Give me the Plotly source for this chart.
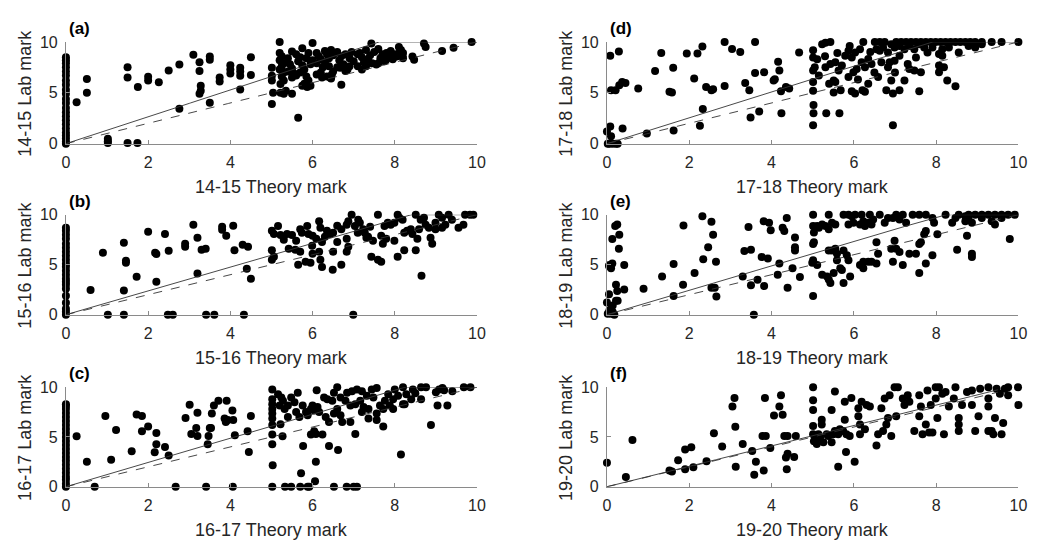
import plotly.graph_objects as go
import numpy as np

# ---------------- data (theory mark, lab mark) ----------------
col_a = [0, 0.2, 0.5, 0.8, 1.1, 1.5, 1.9, 2.3, 2.7, 3.1, 3.5, 4.0, 4.4, 4.9, 5.3, 5.8, 6.2, 6.7, 7.1, 7.5, 7.9, 8.2, 8.5]
pts_a = [(0.26,4.06),(0.51,6.35),(0.51,5.0),(1.02,0.48),(1.02,0.25),(1.02,0.06),(1.5,0.06),(1.74,0.06),(1.5,7.5),(1.5,6.5),
         (1.75,5.56),(2.0,6.57),(2.0,6.2),(2.26,6.03),(2.5,7.2),(2.76,7.78),(2.76,3.43),(3.1,8.73),(3.25,8.0),(3.25,7.14),
         (3.28,5.7),(3.28,5.2),(3.25,4.9),(3.5,8.57),(3.5,8.25),(3.5,4.03),(3.74,6.5),(3.74,6.1),(4.0,7.7),(4.0,7.3),(4.0,6.9),
         (4.24,7.46),(4.24,7.1),(4.24,6.67),(4.24,5.33),(4.5,8.5),(4.5,6.76),
         (5.2,10),(6.0,9.9),(5.01,7.46),(5.01,6.67),(5.01,6.2),(5.04,5.0),(5.01,3.9),(5.5,9.05),(5.5,4.9),(5.65,2.54),(5.75,9.37),
         (6.7,5.8),(7.43,9.84),(8.71,9.84),(8.75,9.5),(8.43,8.57),(8.47,8.25),(9.15,9.11),(9.43,9.43),(9.87,10),
         (5.22,5.0),(5.3,4.9),(5.22,5.87),(5.75,5.7),(5.87,5.56),(6.23,6.5),(6.43,6.5),(6.47,6.8),(6.67,7.46),(6.8,7.14),
         (7.55,7.78),(7.79,8.25),(8.03,8.57),(8.11,8.9),(8.19,8.57),
         (5.2,8.9),(5.25,8.6),(5.2,8.2),(5.3,7.9),(5.25,7.6),(5.2,7.3),(5.3,7.0),(5.25,6.6),(5.3,6.2),(5.35,5.2),
         (5.4,8.4),(5.45,7.8),(5.5,7.4),(5.4,7.1),(5.55,6.9),(5.5,6.5),(5.6,6.7),
         (5.6,8.8),(5.7,8.5),(5.65,8.1),(5.75,7.7),(5.8,7.3),(5.7,7.0),(5.85,6.6),(5.9,6.2),(5.8,5.9),(5.95,5.7),(5.9,8.9),
         (6.0,8.2),(5.95,7.8),(5.85,8.4),
         (6.1,8.9),(6.15,8.6),(6.2,8.3),(6.1,7.9),(6.25,7.5),(6.3,9.1),(6.35,8.8),(6.4,8.4),(6.3,8.0),(6.45,9.2),(6.5,8.7),
         (6.4,7.6),(6.2,7.0),(6.35,6.6),(6.5,7.1),(6.1,6.8),(6.45,6.4),
         (6.6,9.0),(6.7,8.6),(6.65,8.2),(6.8,8.8),(6.9,8.4),(6.75,7.8),(6.85,7.3),(6.95,9.0),(7.0,8.1),(6.6,7.5),(6.9,7.6),
         (7.1,8.8),(7.2,8.5),(7.15,8.9),(7.3,9.2),(7.25,8.0),(7.4,8.7),(7.35,8.3),(7.45,7.9),(7.1,7.6),(7.2,7.3),(7.5,9.0),(7.3,7.6),
         (7.6,9.3),(7.7,8.8),(7.65,8.4),(7.8,8.9),(7.85,8.5),(7.9,9.1),(7.95,8.3),(8.0,8.8),(8.1,9.5),(8.15,9.2),(8.05,8.6),
         (7.75,8.1),(7.6,7.9),(8.2,8.9),(8.2,8.4)]

col_b = [0, 0.3, 0.6, 1.2, 1.9, 2.6, 3.0, 3.3, 3.6, 4.0, 4.4, 4.8, 5.1, 5.5, 5.9, 6.3, 6.7, 7.1, 7.6, 8.0, 8.4, 8.7]
pts_b = [(1.02,0),(1.41,0),(2.48,0),(2.6,0),(3.41,0),(3.61,0),(4.33,0),(6.99,0),
         (0.6,2.48),(0.9,6.2),(1.41,7.2),(1.41,2.42),(1.46,5.4),(1.46,5.2),(1.72,3.8),(2.0,8.3),(2.2,3.3),(2.17,6.2),(2.2,6.06),
         (2.41,8.06),(2.5,6.4),(2.9,7.1),(2.9,6.8),(3.1,9.0),(3.2,7.7),(3.2,4.13),(3.3,6.5),(3.4,6.6),(3.8,8.8),(3.8,8.5),
         (3.9,7.9),(4.07,8.9),(4.1,6.45),(4.3,7.0),(4.43,6.8),(4.4,4.6),(4.5,3.6),
         (5.01,8.4),(5.06,8.06),(5.16,8.87),(5.22,7.97),(5.38,8.06),(5.5,7.97),(5.01,6.45),(5.01,5.5),(5.06,5.8),
         (5.42,6.6),(5.58,6.5),(5.7,6.3),(5.65,5.0),(5.83,5.3),(5.95,5.2),(5.7,8.55),(5.74,8.2),(5.87,8.87),(5.9,8.06),
         (5.99,6.9),(6.16,9.35),(6.19,8.7),(6.09,7.6),(6.23,7.26),(6.16,6.3),(6.19,5.5),(6.23,4.77),(6.49,4.5),(6.7,5.0),
         (6.35,8.4),(6.43,8.06),(6.5,8.2),(6.6,7.26),(6.5,6.3),(6.7,8.55),(6.83,9.0),(6.87,9.35),(6.95,10),
         (6.83,7.6),(6.87,6.8),(6.83,6.3),(7.03,8.87),(7.11,9.5),(7.15,9.2),(7.23,8.55),(7.27,8.2),(7.31,7.7),(7.35,7.8),
         (7.43,5.8),(7.59,5.5),(7.67,5.3),(7.59,10),(7.47,7.4),(7.67,7.9),(7.71,7.1),(7.79,7.6),(7.75,8.87),(7.83,9.2),
         (7.9,9.0),(7.99,9.2),(7.99,7.4),(8.07,10),(8.11,9.7),(8.19,9.5),(8.07,5.8),(8.23,6.45),(8.51,6.45),
         (8.23,8.2),(8.3,8.4),(8.39,8.55),(8.43,8.06),(8.59,8.55),(8.51,10),(8.63,9.5),(8.71,9.7),(8.65,3.9),
         (8.55,7.6),(8.87,7.7),(8.91,7.1),(8.75,9.0),(8.83,8.7),(8.99,9.2),(9.07,10),(9.15,9.7),(9.23,9.0),(9.31,10),
         (9.39,9.5),(9.55,8.7),(9.67,9.0),(9.71,10),(9.83,10),(9.91,10),(8.99,8.55),(9.15,8.7),
         (5.3,7.5),(5.6,7.4),(6.0,7.9),(6.3,7.8),(6.6,8.9),(7.1,8.2),(7.4,8.8),(6.0,6.1)]

col_c = [0, 0.3, 0.7, 1.0, 1.4, 1.8, 2.2, 2.6, 3.0, 3.4, 3.8, 4.2, 4.6, 5.0, 5.4, 5.8, 6.2, 6.6, 7.0, 7.4, 7.8, 8.1, 8.3]
pts_c = [(0.26,5.08),(0.51,2.5),(0.7,0),(0.96,7.1),(1.1,2.7),(1.22,5.7),(1.6,3.56),(1.72,7.25),(1.85,7.1),(1.85,5.57),
         (2.0,6.05),(2.16,3.46),(2.2,4.27),(2.2,5.4),(2.41,4.0),(2.5,3.14),(2.67,0),(2.91,6.9),(3.01,8.25),(3.05,5.3),
         (3.17,5.9),(3.2,5.1),(3.2,7.44),(3.41,0),(3.45,4.27),(3.47,5.1),(3.5,5.9),(3.53,5.9),(3.55,7.35),(3.6,8.15),(3.71,8.64),
         (3.86,6.86),(3.89,6.5),(3.94,6.7),(3.91,8.64),(4.05,7.67),(4.07,6.7),(4.11,5.18),(4.06,0),(4.42,5.57),(4.45,3.5),(4.5,7.1),
         (5.02,9.77),(5.02,8.8),(5.02,8.3),(5.02,7.8),(5.02,7.35),(5.02,6.86),(5.02,6.2),(5.02,5.24),(5.02,4.27),(5.03,2.17),(5.02,0),
         (5.16,9.3),(5.24,8.96),(5.2,8.15),(5.28,8.64),(5.32,7.8),(5.4,8.15),(5.4,7.0),(5.48,8.96),(5.56,8.5),(5.6,7.5),(5.64,9.45),(5.68,7.0),
         (5.22,6.28),(5.27,5.08),(5.33,0),(5.48,0),(5.7,0),(5.88,0),(5.92,0),(5.72,1.36),(5.77,4.1),
         (5.76,8.15),(5.84,7.5),(5.88,7.18),(5.96,7.8),(6.0,8.15),(6.04,7.67),(6.12,8.0),(6.16,7.5),
         (5.96,5.24),(6.04,5.57),(6.08,5.3),(6.24,5.24),(6.08,2.5),(6.06,0.55),(6.1,9.7),
         (6.28,8.96),(6.36,8.8),(6.48,8.64),(6.52,9.45),(6.6,10),(6.68,8.96),(6.32,7.0),(6.4,6.5),(6.52,7.35),(6.6,7.8),(6.68,7.18),
         (6.4,4.1),(6.62,3.7),(6.52,0),(6.83,0),(7.0,0),(7.08,0),(6.72,6.5),(6.92,6.5),(7.04,5.3),
         (6.84,9.45),(6.96,9.6),(7.08,9.77),(7.2,9.6),(7.32,9.13),(7.44,9.77),(7.56,9.93),(7.48,8.96),
         (6.8,8.64),(6.92,8.15),(7.04,8.3),(7.16,8.64),(7.24,8.0),(7.2,7.5),(7.36,7.8),(7.36,6.86),(7.56,7.35),(7.56,6.7),(7.72,6.05),
         (7.64,8.15),(7.76,8.64),(7.84,9.3),(7.96,8.8),(8.0,9.77),(8.08,9.13),(8.2,10),(8.28,9.3),(8.4,8.8),(8.24,8.3),(8.44,9.77),
         (7.72,7.8),(7.88,8.15),(7.96,7.8),(8.2,8.3),(8.15,3.24),
         (8.64,8.8),(8.64,10),(8.76,10),(8.88,6.2),(9.04,8.15),(9.08,9.77),(9.16,9.93),(9.28,8.15),(9.4,9.6),(9.68,10),(9.84,10),
         (9.0,9.5),(9.2,9.7),(8.5,9.4)]

pts_d = [(0.02,0),(0.06,0),(0.14,0),(0.22,0),(0.26,0),(0,1.2),(0.08,1.7),(0.1,0.74),(0.08,8.65),(0.29,9.06),
         (0.1,5.26),(0.21,5.26),(0.3,5.74),(0.37,6.06),(0.45,5.97),(0.38,1.48),(0.76,5.42),(0.97,1.0),(1.17,7.13),(1.32,8.9),
         (1.52,5.1),(1.58,5.03),(1.61,7.45),(1.62,1.3),(1.94,8.87),(2.12,6.4),(2.2,8.87),(2.32,9.55),(2.26,1.77),(2.33,3.4),
         (2.41,5.58),(2.54,5.26),(2.58,5.35),(2.86,10),(2.86,5.68),(3.04,9.3),(3.24,9.0),(3.36,5.97),(3.46,5.26),(3.49,2.58),
         (3.7,3.16),(3.6,10),(3.6,6.94),(3.82,7.03),(4.05,6.2),
         (4.16,8.06),(4.19,7.19),(4.08,6.32),(4.23,5.16),(4.35,5.58),(4.43,5.42),(4.24,3.0),(4.67,8.97),
         (5.01,9.19),(5.01,8.48),(5.05,7.52),(5.01,7.19),(5.01,6.06),(5.01,5.19),(5.02,3.8),(5.02,3.0),(5.01,1.8),(5.33,3.0),(5.65,3.0),
         (5.11,8.3),(5.23,9.77),(5.31,9.93),(5.43,10),(5.15,6.7),(5.31,7.52),(5.43,7.84),(5.55,8.0),(5.63,7.19),(5.51,6.22),(5.55,6.06),
         (5.51,5.03),(5.68,5.26),(5.71,7.68),(5.79,8.65),(5.87,9.13),(5.95,8.48),(6.03,8.97),(6.15,9.29),(6.23,10),
         (5.87,6.55),(5.99,7.03),(6.07,7.35),(6.19,8.0),(6.27,7.52),(6.35,8.32),(6.43,7.84),
         (5.95,5.16),(6.03,4.94),(6.21,5.26),(6.27,5.1),(6.35,5.9),
         (6.51,10),(6.63,10),(6.75,10),(6.55,9.29),(6.63,9.13),(6.71,9.45),(6.83,8.97),(6.91,9.77),(6.99,9.45),
         (6.59,6.55),(6.79,5.26),(6.91,6.22),(6.95,4.94),(7.11,5.26),(7.23,6.22),(6.67,8.0),(6.83,7.52),(6.87,8.0),(6.99,8.16),(7.11,8.65),
         (6.95,1.8),
         (7.03,10),(7.15,10),(7.27,10),(7.39,10),(7.51,10),(7.63,10),(7.75,10),(7.87,10),(7.99,10),(8.11,10),(8.23,10),(8.35,10),
         (8.47,10),(8.59,10),(8.71,10),(8.83,10),(8.95,10),(9.11,10),(9.35,10),(9.59,10),(10.0,10),
         (7.11,9.61),(7.23,9.29),(7.35,9.61),(7.47,9.29),(7.59,9.77),(7.71,9.45),(7.79,8.97),(7.91,9.45),(8.07,8.81),(8.15,9.29),
         (8.31,9.45),(8.55,8.97),(8.79,9.61),(8.95,9.45),(9.11,9.77),
         (7.31,7.84),(7.35,7.35),(7.47,7.19),(7.63,7.03),(7.51,8.48),(7.59,5.16),
         (8.07,7.68),(8.19,7.52),(8.27,6.22),(8.47,5.64),(8.15,8.65),(8.07,7.03),
         (5.3,8.6),(5.6,8.9),(5.9,9.6),(6.4,9.0),(6.1,6.3),(5.4,5.9),(6.5,7.0),(7.0,7.0)]

pts_e = [(0.02,0.1),(0.1,0.1),(0.14,0.26),(0.06,0.42),(0.18,0),(0,1.23),(0.05,2.05),(0.1,0.58),(0.14,0.91),(0.22,1.4),
         (0.06,4.97),(0.09,4.8),(0.13,5.13),(0.1,4.64),(0.05,4.87),(0.13,7.57),(0.2,8.86),(0.25,9.03),(0.3,8.0),(0.29,6.6),
         (0.22,3.0),(0.25,2.37),(0.42,2.53),(0.42,4.97),(0.26,1.4),(0.89,2.6),(1.34,3.83),(1.62,5.06),(1.62,1.88),(1.85,3.0),
         (1.86,8.93),(2.13,4.16),(2.32,9.84),(2.34,5.55),(2.46,6.75),(2.54,9.29),(2.58,8.0),(2.54,2.7),(2.62,2.7),(2.65,5.3),
         (2.66,1.82),(3.3,3.83),(3.34,6.36),(3.44,8.77),(3.5,6.5),(3.5,2.95),(3.57,0),(3.66,3.5),(3.76,5.78),(3.81,9.35),
         (3.82,2.86),(3.94,9.19),(3.98,8.44),
         (3.91,5.62),(4.19,5.13),(4.15,3.99),(4.27,8.7),(4.31,8.38),(4.37,9.68),(4.39,2.7),(4.51,4.64),(4.57,7.73),(4.57,6.75),
         (4.57,6.43),(4.69,3.77),
         (5.01,10),(5.01,8.86),(5.03,8.21),(5.03,7.24),(5.01,7.08),(5.01,5.45),(4.99,5.19),(5.01,1.88),
         (5.11,8.86),(5.15,8.7),(5.23,9.03),(5.31,8.86),(5.39,8.54),(5.47,9.19),(5.55,9.03),(5.11,4.97),(5.23,3.99),(5.35,3.83),
         (5.39,3.51),(5.43,3.18),(5.51,4.16),(5.59,5.45),(5.67,4.64),(5.71,4.48),(5.75,3.18),(5.83,5.94),(5.87,5.45),(5.91,3.83),
         (5.39,10),(5.75,10),(5.87,10),(5.95,9.84),(6.03,10),(5.99,9.19),(5.87,9.03),(6.15,9.03),(6.19,10),(6.23,9.35),(6.27,8.86),
         (6.39,10),(6.35,9.19),(6.43,9.03),(6.47,9.51),(6.63,10),
         (5.39,6.43),(5.47,6.43),(5.55,6.59),(5.75,6.43),(5.59,6.1),
         (6.15,4.97),(6.23,4.64),(6.35,5.29),(6.43,5.29),(6.55,5.13),(6.23,5.29),(6.55,7.24),(6.59,6.1),
         (6.75,9.19),(6.83,9.68),(6.95,9.68),(7.03,10),(7.11,9.51),(7.19,10),(7.27,9.19),(7.43,10),(7.59,10),(7.75,10),(7.91,9.68),
         (8.23,10),(8.55,10),(8.71,9.84),(8.79,10),(8.95,10),(9.11,10),(9.27,10),(9.43,10),(9.59,10),(9.75,10),(9.91,10),
         (6.99,7.4),(7.03,6.59),(6.91,6.59),(7.11,6.27),(6.95,5.29),
         (7.19,4.97),(7.35,6.1),(7.51,6.1),(7.59,7.08),(7.63,7.24),(7.71,8.05),(7.75,8.38),(7.59,4.16),(7.75,5.13),(7.91,5.94),(8.03,8.05),
         (7.95,9.19),(8.39,9.19),(8.47,9.68),(8.71,9.35),(8.79,9.51),(8.87,9.19),(9.11,9.68),(9.35,9.35),(9.43,9.03),(9.59,9.68),
         (8.51,6.49),(8.75,7.89),(8.87,6.1),(8.87,5.78),(9.79,7.56)]

pts_f = [(0,2.41),(0.46,0.98),(0.62,4.69),(1.52,1.63),(1.58,1.53),(1.73,2.67),(1.9,1.76),(1.9,3.75),(2.05,3.97),(2.1,1.95),
         (2.42,2.57),(2.6,5.37),(2.8,4.04),(3.05,8.05),(3.1,8.92),(3.12,6.03),(3.13,2.02),(3.3,4.3),(3.53,3.58),(3.62,2.5),
         (3.58,1.2),(3.78,5.11),(3.86,5.11),(3.81,1.63),(3.84,8.92),(3.97,3.88),(4.06,7.17),
         (4.19,8.05),(4.23,9.19),(4.27,7.23),(4.31,5.11),(4.39,5.11),(4.59,5.11),(4.35,2.93),(4.39,3.32),(4.55,3.0),(4.37,1.76),
         (5.01,10.0),(5.01,8.7),(5.01,7.72),(5.01,6.09),(5.01,5.28),(5.03,4.56),(5.06,4.79),(5.1,4.3),(5.14,5.28),(5.18,4.95),
         (5.22,6.74),(5.22,6.25),(5.26,4.47),(5.34,5.28),(5.38,5.11),(5.46,4.47),(5.46,7.72),(5.5,5.28),(5.54,9.58),(5.54,5.6),
         (5.62,5.28),(5.62,2.02),(5.66,5.77),(5.74,5.6),(5.78,8.53),(5.78,6.74),(5.82,5.28),(5.81,3.49),(5.9,5.11),(5.94,8.92),(6.02,2.51),
         (6.11,7.88),(6.11,7.07),(6.15,6.25),(6.19,8.53),(6.27,5.77),(6.15,5.28),(6.31,8.21),(6.39,8.05),(6.55,4.14),(6.59,5.28),
         (6.67,7.88),(6.71,5.6),(6.75,8.86),(6.79,6.25),(6.83,6.91),(6.87,9.19),(6.91,5.11),(6.99,10.0),(7.07,10.0),(7.03,7.07),
         (7.19,8.86),(7.23,8.21),(7.31,9.19),(7.35,8.53),(7.47,5.6),(7.59,9.19),(7.59,7.07),(7.63,8.05),(7.67,5.28),(7.75,6.25),
         (7.79,9.67),(7.83,5.44),(7.87,8.21),(7.91,5.44),(7.99,10.0),(7.99,8.86),(8.03,6.91),(8.07,9.99),(8.15,9.35),(8.19,5.28),
         (8.23,9.51),(8.31,8.05),(8.43,8.86),(8.47,10.0),(8.55,6.91),(8.55,6.25),(8.55,5.6),(8.63,8.21),(8.75,9.51),(8.87,9.67),
         (8.87,8.21),(8.95,5.6),(9.03,7.07),(9.07,9.84),(9.27,10.0),(9.27,8.86),(9.27,8.05),(9.27,5.6),(9.35,5.6),(9.39,5.28),
         (9.43,6.91),(9.47,9.84),(9.55,9.35),(9.59,5.28),(9.63,6.41),(9.67,9.84),(9.75,9.99),(9.75,9.19),(9.99,10.0),(10.0,8.21)]

years = ["14-15", "17-18", "15-16", "18-19", "16-17", "19-20"]
letters = ["(a)", "(d)", "(b)", "(e)", "(c)", "(f)"]
# fitted-line slopes (solid, dashed) and line end on theory axis
solid_slope = [1.32, 1.27, 1.19, 1.22, 1.22, 1.025]
dashed_slope = [1.0, 1.0, 1.0, 1.0, 1.0, 1.0]
line_end = [10, 10, 10, 10, 10, 9.5]

def with_column(col, pts):
    return [(0.0, v) for v in col] + pts

panel_points = [with_column(col_a, pts_a), pts_d, with_column(col_b, pts_b), pts_e,
                with_column(col_c, pts_c), pts_f]

# ---------------- layout geometry ----------------
W, H = 1037, 550
xdoms = [(62.7 / W, 479.0 / W), (610.6 / W, 1027.3 / W)]
ydoms = [(1 - 140 / H, 1 - 35 / H), (1 - 316.5 / H, 1 - 213.3 / H), (1 - 494 / H, 1 - 391.3 / H)]

fig = go.Figure()
FONT = "Liberation Sans, Arial, sans-serif"
TXT = "#262626"
AX = "#8a8a8a"

annotations = []
for i in range(6):
    row, c = i // 2, i % 2
    n = i + 1
    xa = "x" if n == 1 else f"x{n}"
    ya = "y" if n == 1 else f"y{n}"
    pts = panel_points[i]
    xs = [p[0] for p in pts]
    ys = [p[1] for p in pts]
    fig.add_trace(go.Scatter(x=xs, y=ys, mode="markers", xaxis=xa, yaxis=ya,
                             marker=dict(color="black", size=8, line=dict(width=0)),
                             cliponaxis=False, showlegend=False, hoverinfo="skip"))
    for slope, dash in ((solid_slope[i], "solid"), (dashed_slope[i], "dash")):
        xx = np.linspace(0, line_end[i], 401)
        yy = np.minimum(slope * xx, 10)
        fig.add_trace(go.Scatter(x=xx, y=yy, mode="lines", xaxis=xa, yaxis=ya,
                                 line=dict(color="#333333", width=0.9, dash=dash),
                                 showlegend=False, hoverinfo="skip"))
    axkey_x = "xaxis" if n == 1 else f"xaxis{n}"
    axkey_y = "yaxis" if n == 1 else f"yaxis{n}"
    common = dict(showgrid=False, zeroline=False, showline=True, linecolor=AX, linewidth=1,
                  ticks="inside", ticklen=4, tickcolor=AX, tickwidth=1,
                  tickfont=dict(family=FONT, size=16, color=TXT), fixedrange=True)
    fig.update_layout({
        axkey_x: dict(domain=list(xdoms[c]), range=[0, 10], tickvals=[0, 2, 4, 6, 8, 10],
                      anchor=ya, ticklabelstandoff=4, **common),
        axkey_y: dict(domain=list(ydoms[row]), range=[0, 10], tickvals=[0, 5, 10],
                      anchor=xa, ticklabelstandoff=4, **common),
    })
    annotations.append(dict(text=f"{years[i]} Theory mark", xref=f"{xa} domain", yref=f"{ya} domain",
                            x=0.5, y=0, yshift=-43, xanchor="center", yanchor="middle", showarrow=False,
                            font=dict(family=FONT, size=18, color=TXT)))
    annotations.append(dict(text=f"{years[i]} Lab mark", xref=f"{xa} domain", yref=f"{ya} domain",
                            x=0, xshift=-41, y=0.5, xanchor="center", yanchor="middle", textangle=-90,
                            showarrow=False, font=dict(family=FONT, size=18, color=TXT)))
    annotations.append(dict(text=f"<b>{letters[i]}</b>", xref=f"{xa} domain", yref=f"{ya} domain",
                            x=0, xshift=1, y=1, yshift=2, xanchor="left", yanchor="bottom",
                            showarrow=False, font=dict(family=FONT, size=17, color="black")))

fig.update_layout(width=W, height=H, margin=dict(l=0, r=0, t=0, b=0),
                  paper_bgcolor="white", plot_bgcolor="white", annotations=annotations)

fig.write_html("out.html", config={"displayModeBar": False})
